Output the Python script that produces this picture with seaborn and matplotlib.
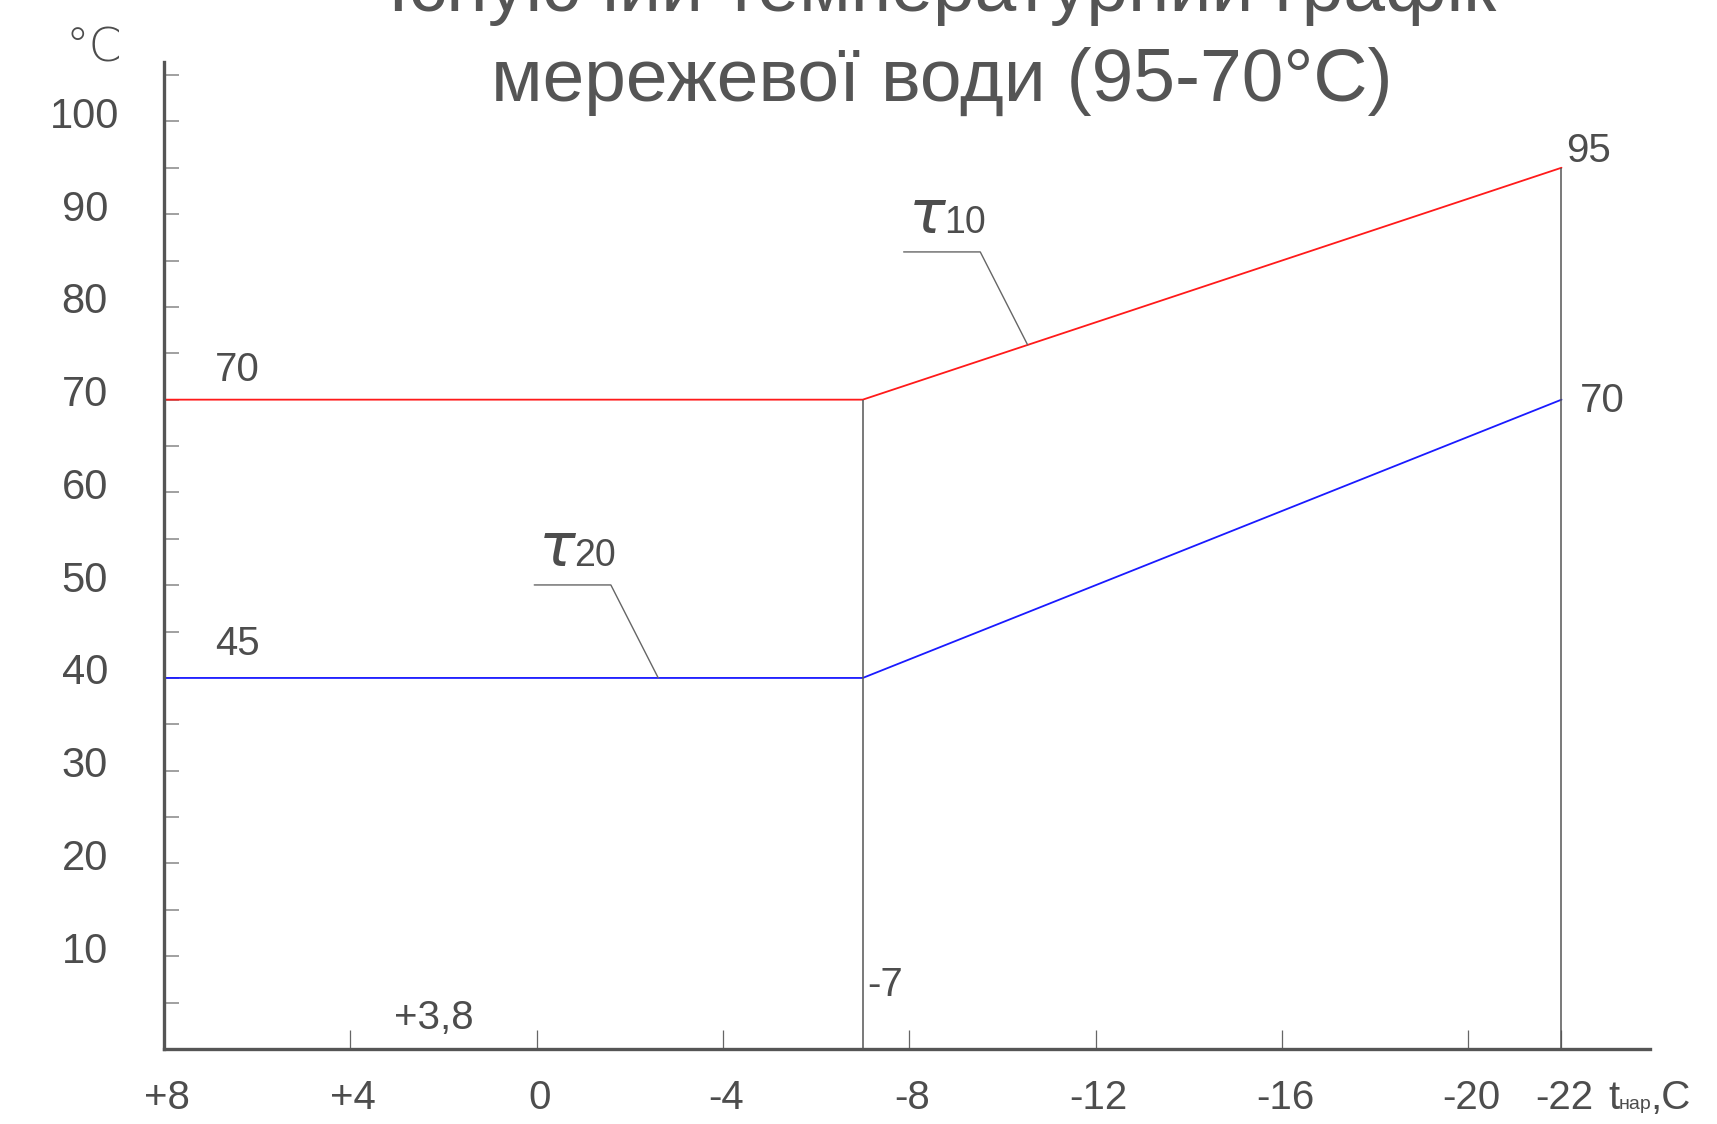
import numpy as np
import pandas as pd
import matplotlib
matplotlib.use("Agg")
import matplotlib.pyplot as plt
import matplotlib.transforms as mtransforms
import seaborn as sns

# outdoor air temperature, break point and design point
outdoor_t = [8, -7, -22]
supply_t = [70, 70, 95]     # tau10
return_t = [40, 40, 70]     # tau20 (drawn at 40, labelled 45 on the chart)

x_ticks = [8, 4, 0, -4, -8, -12, -16, -20, -22]
x_labels = ["+8", "+4", "0", "-4", "-8", "-12", "-16", "-20", "-22"]
y_ticks = [10, 20, 30, 40, 50, 60, 70, 80, 90, 100]
y_minor = [5, 15, 25, 35, 45, 55, 65, 75, 85, 95, 105]

title_1 = "Існуючий температурний графік"
title_2 = "мережевої води (95-70°C)"

df = pd.DataFrame({"t": outdoor_t * 2,
                   "temp": supply_t + return_t,
                   "line": ["τ10"] * 3 + ["τ20"] * 3})

sns.set_style("white")
plt.rcParams["font.family"] = ["Liberation Sans Narrow", "Liberation Sans", "DejaVu Sans"]
txt = "#4d4d4d"
axc = "#555555"

fig = plt.figure(figsize=(17.17, 11.24), dpi=100)
ax = fig.add_axes([164 / 1717, 1 - 1049 / 1124, (1650 - 164) / 1717, (1049 - 62) / 1124])

sns.lineplot(data=df, x="t", y="temp", hue="line", palette=["#ff1a1a", "#1a1aff"],
             linewidth=1.3, legend=False, ax=ax, sort=False)

# guide lines at the break point and at the design temperature
ax.vlines([outdoor_t[1], outdoor_t[2]], 0, [supply_t[1], supply_t[2]], color="#555555", lw=1.1)

ax.set_xlim(8, -23.9)
ax.set_ylim(0, 106.4)
ax.set_xlabel("")
ax.set_ylabel("")

for s in ["top", "right"]:
    ax.spines[s].set_visible(False)
for s in ["left", "bottom"]:
    ax.spines[s].set_linewidth(2.4)
    ax.spines[s].set_color(axc)

ax.set_xticks(x_ticks)
ax.set_xticklabels(x_labels)
ax.set_yticks(y_ticks)
ax.set_yticks(y_minor, minor=True)
ax.set_yticklabels([str(v) for v in y_ticks])
ax.tick_params(axis="x", bottom=True, direction="in", length=14, width=0.9, color="#666666",
               labelsize=29, labelcolor=txt, pad=20)
ax.tick_params(axis="y", which="both", left=True, direction="in", length=11, width=1.3,
               color="#999999", labelsize=30, labelcolor=txt, pad=57)
for lab in ax.get_yticklabels():
    lab.set_horizontalalignment("center")
    lab.set_transform(lab.get_transform() + mtransforms.ScaledTranslation(0, 0.09, fig.dpi_scale_trans))
for lab in ax.get_xticklabels():
    lab.set_transform(lab.get_transform() + mtransforms.ScaledTranslation(0.03, -0.02, fig.dpi_scale_trans))

# value labels
fs = 29
ax.text(6.9, 73.2, "70", fontsize=fs, color=txt, va="center", ha="left")
ax.text(6.9, 43.7, "45", fontsize=fs, color=txt, va="center", ha="left")
ax.text(-22.1, 96.8, "95", fontsize=fs, color=txt, va="center", ha="left")
ax.text(-22.4, 69.9, "70", fontsize=fs, color=txt, va="center", ha="left")
ax.text(-7.1, 6.9, "-7", fontsize=fs, color=txt, va="center", ha="left")
ax.text(2.2, 3.3, "+3,8", fontsize=fs, color=txt, va="center", ha="center")

# tau labels with leader lines
for xp, ys, idx in [(-10.54, supply_t, "10"), (-2.61, return_t, "20")]:
    yp = np.interp(-xp, [-v for v in outdoor_t], ys)
    ax.annotate("", xy=(xp, yp), xytext=(-124, 93), textcoords="offset pixels",
                arrowprops=dict(arrowstyle="-", color="#666666", lw=1.0, shrinkA=0, shrinkB=0,
                                connectionstyle="angle,angleA=0,angleB=117"))
    ax.annotate("τ", xy=(xp, yp), xytext=(-119, 112), textcoords="offset pixels",
                fontsize=44, color=txt, ha="left", va="baseline", style="italic",
                family=["DejaVu Sans"])
    ax.annotate(idx, xy=(xp, yp), xytext=(-84, 112), textcoords="offset pixels",
                fontsize=27, color=txt, ha="left", va="baseline")

# axis units
fig.text(94 / 1717, 1 - 48 / 1124, "°C", fontsize=34, color=txt, ha="center", va="center",
         family=["DejaVu Sans"], fontweight="light")
fig.text(1608 / 1717, 1 - 1109 / 1124, "t", fontsize=29, color=txt, ha="left", va="baseline")
fig.text(1619 / 1717, 1 - 1109 / 1124, "нар", fontsize=14, color=txt, ha="left", va="baseline")
fig.text(1650 / 1717, 1 - 1109 / 1124, ",C", fontsize=29, color=txt, ha="left", va="baseline")

fig.text(942 / 1717, 1 - 11 / 1124, title_1, fontsize=54, color="#555555", ha="center",
         va="baseline", family=["Liberation Sans", "DejaVu Sans"])
fig.text(942 / 1717, 1 - 101 / 1124, title_2, fontsize=54, color="#555555", ha="center",
         va="baseline", family=["Liberation Sans", "DejaVu Sans"])

fig.savefig("out.png", dpi=100)
